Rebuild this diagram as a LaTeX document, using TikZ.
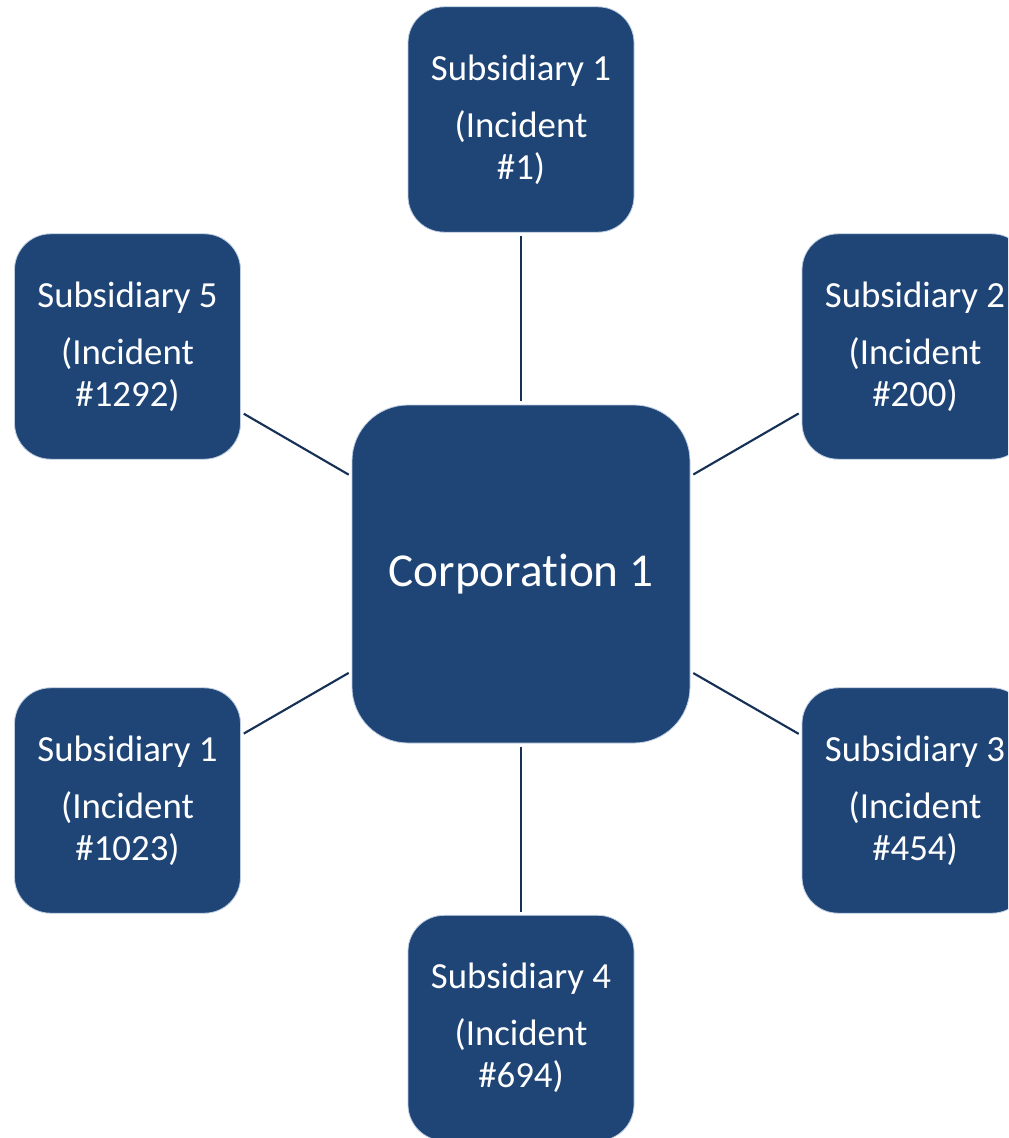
\documentclass[tikz,border=0pt]{standalone}
\usepackage{fontspec}
\setmainfont{Carlito}[Ligatures=NoCommon]
\usepackage{tikz}
\usetikzlibrary{calc}
\definecolor{boxblue}{RGB}{31,69,119}
\definecolor{boxedge}{RGB}{190,205,225}
\definecolor{linkblue}{RGB}{22,48,86}

\begin{document}
\begin{tikzpicture}[x=0.75pt, y=-0.75pt,
  sub/.style={draw=boxedge, line width=0.6pt, fill=boxblue, text=white, rounded corners=27pt,
              minimum width=169.5pt, minimum height=169pt, align=center, inner sep=0pt,
              font=\fontsize{27.6pt}{31.5pt}\selectfont},
  corp/.style={draw=boxedge, line width=0.6pt, fill=boxblue, text=white, rounded corners=42pt,
               minimum width=253.5pt, minimum height=253.5pt, align=center,
               font=\fontsize{35.4pt}{42pt}\selectfont},
  link/.style={draw=linkblue, line width=1.6pt, shorten <=2.5pt, shorten >=2.5pt},
]
\useasboundingbox (0,0) rectangle (1008,1138);
\clip (0,0) rectangle (1008,1138);

\node[corp] (corp) at (521,574) {Corporation 1};

\node[sub] (sub1) at (521,119.5) {Subsidiary 1\\[11pt](Incident\\\#1)};
\node[sub] (sub2) at (915,346.5) {Subsidiary 2\\[11pt](Incident\\\#200)};
\node[sub] (sub3) at (915,800.5) {Subsidiary 3\\[11pt](Incident\\\#454)};
\node[sub] (sub4) at (521,1028) {Subsidiary 4\\[11pt](Incident\\\#694)};
\node[sub] (sub1b) at (127.5,800.5) {Subsidiary 1\\[11pt](Incident\\\#1023)};
\node[sub] (sub5) at (127.5,346.5) {Subsidiary 5\\[11pt](Incident\\\#1292)};

% spokes
\foreach \s in {sub1,sub2,sub3,sub4,sub1b,sub5}
  \draw[link] (corp) -- (\s);
\end{tikzpicture}
\end{document}
